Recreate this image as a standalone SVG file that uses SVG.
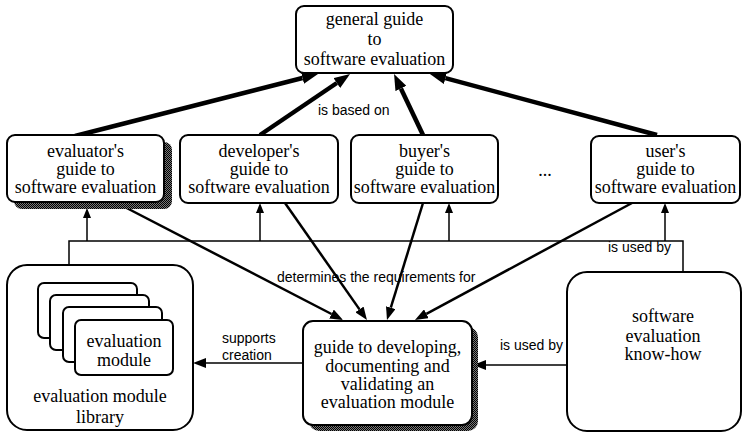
<svg xmlns="http://www.w3.org/2000/svg" width="744" height="433" viewBox="0 0 744 433">
<style>
.box{fill:#fff;stroke:#000;stroke-width:2}
.t{font-family:"Liberation Serif","Times New Roman",serif;font-size:18px;fill:#000;text-anchor:middle}
.l{font-family:"Liberation Sans",Arial,sans-serif;font-size:14px;fill:#000}
.thick{stroke:#000;stroke-width:4.5;fill:none}
.med{stroke:#000;stroke-width:2.5;fill:none}
.thin{stroke:#000;stroke-width:1.5;fill:none}
.shadow{fill:url(#dots)}
</style>
<defs>
<pattern id="dots" width="2" height="2" patternUnits="userSpaceOnUse"><rect width="2" height="2" fill="#777"/><rect width="1" height="1" fill="#000"/><rect x="1" y="1" width="1" height="1" fill="#000"/></pattern>
<marker id="hBig" viewBox="0 -6 16 12" markerWidth="16" markerHeight="12" refX="0" refY="0" orient="auto" markerUnits="userSpaceOnUse"><path d="M0,-6 L16,0 L0,6 z" fill="#000"/></marker>
<marker id="hMed" viewBox="0 -5 13 10" markerWidth="13" markerHeight="10" refX="0" refY="0" orient="auto" markerUnits="userSpaceOnUse"><path d="M0,-5 L13,0 L0,5 z" fill="#000"/></marker>
<marker id="hSmall" viewBox="0 -4 10 8" markerWidth="10" markerHeight="8" refX="0" refY="0" orient="auto" markerUnits="userSpaceOnUse"><path d="M0,-4 L10,0 L0,4 z" fill="#000"/></marker>
</defs>
<rect width="744" height="433" fill="#fff"/>

<g id="connectors">
<line class="thick" x1="75" y1="136" x2="302.5" y2="78" marker-end="url(#hBig)"/>
<line class="thick" x1="260" y1="135" x2="336.8" y2="83" marker-end="url(#hBig)"/>
<line class="thick" x1="423" y1="135" x2="400.9" y2="88.5" marker-end="url(#hBig)"/>
<line class="thick" x1="657" y1="135" x2="445.4" y2="78.2" marker-end="url(#hBig)"/>
<text class="l" x="318" y="115">is based on</text>

<line class="med" x1="117" y1="203" x2="331.5" y2="314" marker-end="url(#hMed)"/>
<line class="med" x1="285" y1="203" x2="359.5" y2="309.4" marker-end="url(#hMed)"/>
<line class="med" x1="423" y1="203" x2="390.8" y2="307.6" marker-end="url(#hMed)"/>
<line class="med" x1="632" y1="203" x2="426.4" y2="313.8" marker-end="url(#hMed)"/>
<text class="l" x="277" y="282">determines the requirements for</text>

<polyline class="thin" points="69,265 69,241 683,241 683,272"/>
<line class="thin" x1="87" y1="241" x2="87" y2="218" marker-end="url(#hSmall)"/>
<line class="thin" x1="260" y1="241" x2="260" y2="213" marker-end="url(#hSmall)"/>
<line class="thin" x1="449" y1="241" x2="449" y2="213" marker-end="url(#hSmall)"/>
<line class="thin" x1="665" y1="241" x2="665" y2="213" marker-end="url(#hSmall)"/>
<text class="l" x="608" y="252">is used by</text>

<line class="thin" x1="567" y1="365" x2="486" y2="365" marker-end="url(#hMed)"/>
<text class="l" x="500" y="350">is used by</text>
<line class="thin" x1="303" y1="363" x2="206" y2="363" marker-end="url(#hMed)"/>
<text class="l" x="222" y="343">supports</text>
<text class="l" x="222" y="360">creation</text>
</g>

<g id="general-guide">
<rect class="box" x="296" y="6" width="157" height="67" rx="8"/>
<text class="t" x="374.5" y="25">general guide</text>
<text class="t" x="374.5" y="45">to</text>
<text class="t" x="374.5" y="65">software evaluation</text>
</g>

<g id="evaluators-guide">
<rect class="shadow" x="14" y="142" width="158" height="67" rx="8"/>
<rect class="box" x="7" y="135" width="157" height="67" rx="8"/>
<text class="t" x="85.5" y="157">evaluator's</text>
<text class="t" x="85.5" y="175">guide to</text>
<text class="t" x="85.5" y="193">software evaluation</text>
</g>

<g id="developers-guide">
<rect class="box" x="180" y="135" width="158" height="68" rx="8"/>
<text class="t" x="259" y="157">developer's</text>
<text class="t" x="259" y="175">guide to</text>
<text class="t" x="259" y="193">software evaluation</text>
</g>

<g id="buyers-guide">
<rect class="box" x="351" y="135" width="147" height="68" rx="8"/>
<text class="t" x="424.5" y="157">buyer's</text>
<text class="t" x="424.5" y="175">guide to</text>
<text class="t" x="424.5" y="193">software evaluation</text>
</g>

<text class="t" x="545" y="176">...</text>

<g id="users-guide">
<rect class="box" x="591" y="136" width="149" height="67" rx="8"/>
<text class="t" x="665.5" y="157">user's</text>
<text class="t" x="665.5" y="175">guide to</text>
<text class="t" x="665.5" y="193">software evaluation</text>
</g>

<g id="module-library">
<rect class="box" x="7" y="265" width="186" height="165" rx="20"/>
<rect class="box" x="38" y="283" width="99" height="55" rx="6"/>
<rect class="box" x="50" y="295" width="99" height="55" rx="6"/>
<rect class="box" x="63" y="307" width="99" height="55" rx="6"/>
<g id="evaluation-module">
<rect class="box" x="75" y="320" width="98" height="55" rx="6"/>
<text class="t" x="124" y="347">evaluation</text>
<text class="t" x="124" y="366">module</text>
</g>
<text class="t" x="100" y="402">evaluation module</text>
<text class="t" x="100" y="423">library</text>
</g>

<g id="guide-developing">
<rect class="shadow" x="309" y="327" width="169" height="104" rx="10"/>
<rect class="box" x="303" y="321" width="169" height="104" rx="10"/>
<text class="t" x="387.5" y="353">guide to developing,</text>
<text class="t" x="387.5" y="372">documenting and</text>
<text class="t" x="387.5" y="390">validating an</text>
<text class="t" x="387.5" y="408">evaluation module</text>
</g>

<g id="know-how">
<rect class="box" x="567" y="272" width="174" height="159" rx="20"/>
<text class="t" x="663" y="322">software</text>
<text class="t" x="663" y="342">evaluation</text>
<text class="t" x="663" y="360">know-how</text>
</g>
</svg>
